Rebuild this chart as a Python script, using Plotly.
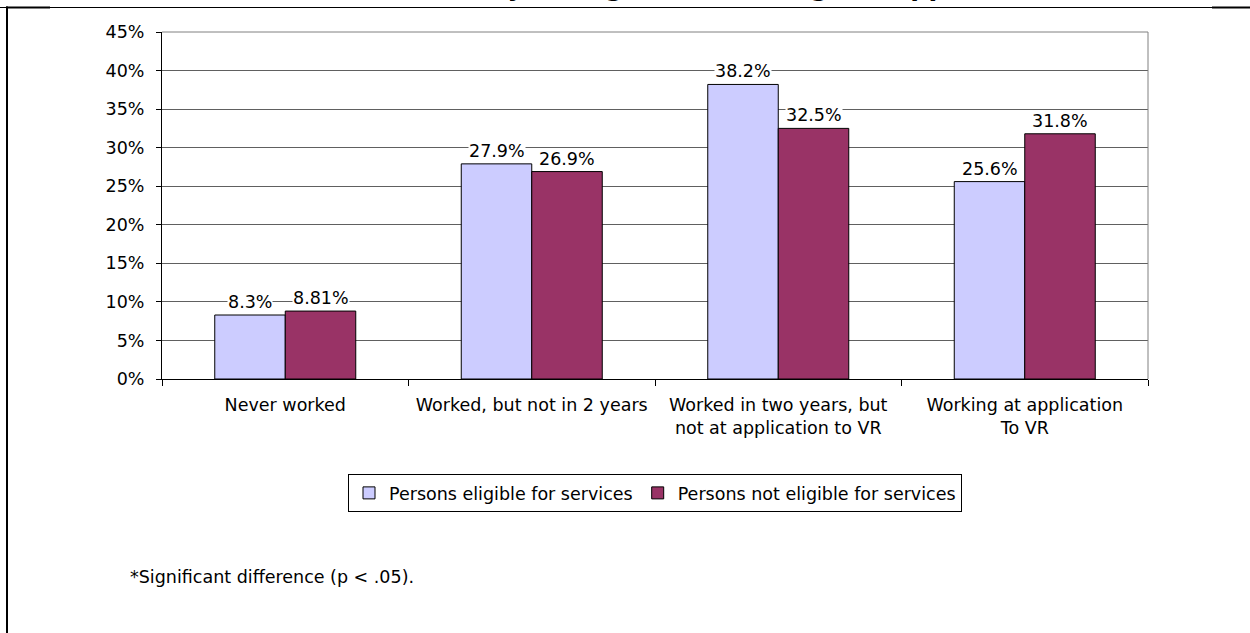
import plotly.graph_objects as go

# ---- data -------------------------------------------------------------
categories = [
    "Never worked",
    "Worked, but not in 2 years",
    "Worked in two years, but<br>not at application to VR",
    "Working at application<br>To VR",
]
series_names = ["Persons eligible for services", "Persons not eligible for services"]
eligible = [0.083, 0.279, 0.382, 0.256]
not_eligible = [0.0881, 0.269, 0.325, 0.318]
eligible_labels = ["8.3%", "27.9%", "38.2%", "25.6%"]
not_eligible_labels = ["8.81%", "26.9%", "32.5%", "31.8%"]
y_ticks = [0, 0.05, 0.10, 0.15, 0.20, 0.25, 0.30, 0.35, 0.40, 0.45]
y_tick_text = ["0%", "5%", "10%", "15%", "20%", "25%", "30%", "35%", "40%", "45%"]
title_text = "Work Activity of Eligible and Ineligible Applicants"
footnote = "*Significant difference (p < .05)."

# ---- geometry ---------------------------------------------------------
W, H = 1250, 633
ML, MR, MT, MB = 162, 102, 32, 254
PW, PH = W - ML - MR, H - MT - MB
FONT = "DejaVu Sans, Arial, sans-serif"
FS = 17.5


def px_x(px):
    return (px - ML) / PW


def px_y(py):
    return (H - MB - py) / PH


fig = go.Figure()
fig.add_trace(go.Bar(
    x=categories, y=eligible, name=series_names[0],
    marker=dict(color="#CCCCFF", line=dict(color="black", width=1)),
))
fig.add_trace(go.Bar(
    x=categories, y=not_eligible, name=series_names[1],
    marker=dict(color="#993366", line=dict(color="black", width=1)),
))

# value labels above each bar, on a white box so gridlines stop at the text
annotations = []
for offset, vals, labels in ((-0.5, eligible, eligible_labels),
                             (0.5, not_eligible, not_eligible_labels)):
    for i, (v, lab) in enumerate(zip(vals, labels)):
        annotations.append(dict(
            x=i + offset * 0.286, y=v, xref="x", yref="y",
            text=lab, showarrow=False, yanchor="bottom", yshift=2,
            bgcolor="white", borderpad=0,
            font=dict(family=FONT, size=FS, color="black"),
        ))

# chart title sits above the top edge of the page
annotations.append(dict(
    x=px_x(686), y=px_y(-13.5), xref="paper", yref="paper",
    text="<b>" + title_text + "</b>", showarrow=False,
    xanchor="center", yanchor="middle",
    font=dict(family=FONT, size=25.5, color="black"),
))
annotations.append(dict(
    x=px_x(128), y=px_y(577), xref="paper", yref="paper",
    text=footnote, showarrow=False, xanchor="left", yanchor="middle",
    font=dict(family=FONT, size=FS, color="black"),
))

shapes = [
    # plot-area border (top and right)
    dict(type="line", xref="paper", yref="paper", x0=0, x1=1, y0=1, y1=1,
         line=dict(color="#808080", width=1)),
    dict(type="line", xref="paper", yref="paper", x0=1, x1=1, y0=0, y1=1,
         line=dict(color="#808080", width=1)),
    # outer frame
    dict(type="line", xref="paper", yref="paper", x0=px_x(0), x1=px_x(W),
         y0=px_y(7.5), y1=px_y(7.5), line=dict(color="black", width=1)),
    dict(type="line", xref="paper", yref="paper", x0=px_x(6), x1=px_x(50),
         y0=px_y(7.5), y1=px_y(7.5), line=dict(color="black", width=2)),
    dict(type="line", xref="paper", yref="paper", x0=px_x(1212), x1=px_x(W),
         y0=px_y(7.5), y1=px_y(7.5), line=dict(color="black", width=2)),
    dict(type="line", xref="paper", yref="paper", x0=px_x(7), x1=px_x(7),
         y0=px_y(6.5), y1=px_y(H + 5), line=dict(color="black", width=2)),
]

fig.update_layout(
    width=W, height=H,
    margin=dict(l=ML, r=MR, t=MT, b=MB, pad=0),
    paper_bgcolor="white", plot_bgcolor="white",
    barmode="group", bargap=0.428, bargroupgap=0,
    font=dict(family=FONT, size=FS, color="black"),
    showlegend=True,
    legend=dict(
        orientation="h", x=0.5, xanchor="center", y=px_y(474), yanchor="top",
        bordercolor="black", borderwidth=1, bgcolor="white",
        font=dict(family=FONT, size=FS, color="black"),
        itemwidth=30, traceorder="normal",
    ),
    annotations=annotations,
    shapes=shapes,
)
fig.update_xaxes(
    showgrid=False, showline=True, linecolor="black", linewidth=1,
    ticks="outside", tickson="boundaries", ticklen=6, tickcolor="black",
    ticklabelstandoff=10, zeroline=False,
)
fig.update_yaxes(
    range=[0, 0.45], tickvals=y_ticks, ticktext=y_tick_text,
    showgrid=True, gridcolor="#606060", gridwidth=1,
    showline=True, linecolor="black", linewidth=1,
    ticks="outside", ticklen=5, tickcolor="black",
    ticklabelstandoff=8, zeroline=False,
)

fig.write_html("out.html")
